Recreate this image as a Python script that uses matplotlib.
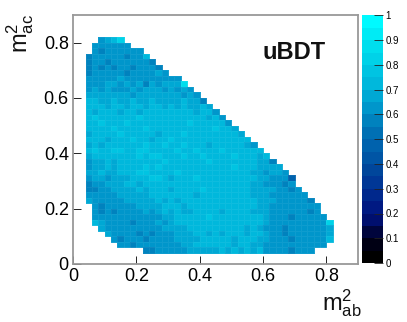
import numpy as np
import matplotlib
matplotlib.use('Agg')
import matplotlib.pyplot as plt
from matplotlib.colors import ListedColormap

plt.rcParams['font.family'] = ['Liberation Sans', 'DejaVu Sans']
plt.rcParams['mathtext.fontset'] = 'custom'
plt.rcParams['mathtext.rm'] = 'Liberation Sans'
plt.rcParams['mathtext.it'] = 'Liberation Sans'

# bins of the histogram, 0.02 wide
x_edges = np.arange(0.04, 0.8401, 0.02)
y_edges = np.arange(0.82, 0.0399, -0.02)

# first filled x bin of every row, top row first
first_bin = [2, 1, 1, 0, 0, 0, 0, 0, 0, 0, 0, 0, 0, 0, 0, 0, 0, 0, 0, 0,
             0, 0, 0, 0, 0, 0, 0, 0, 0, 0, 1, 1, 1, 1, 2, 3, 4, 5, 9]

# efficiency per bin in percent, top row first
rows = [
    [62, 67, 72, 82],
    [62, 62, 62, 62, 62, 60],
    [62, 57, 62, 62, 60, 62, 62, 60],
    [57, 62, 62, 62, 62, 62, 57, 62, 62, 72],
    [57, 62, 62, 57, 62, 62, 62, 62, 62, 62, 55],
    [57, 62, 57, 62, 57, 62, 62, 57, 62, 62, 62, 57],
    [57, 62, 62, 62, 60, 62, 57, 62, 62, 62, 62, 67, 60],
    [60, 62, 62, 62, 62, 67, 62, 62, 62, 62, 62, 62, 62, 60, 60],
    [60, 62, 62, 65, 65, 62, 65, 62, 65, 57, 65, 62, 65, 65, 67, 85],
    [62, 65, 62, 65, 62, 62, 62, 65, 62, 65, 67, 65, 62, 65, 62, 67, 60],
    [67, 68, 67, 67, 65, 67, 65, 62, 67, 67, 65, 67, 67, 65, 67, 62, 67, 60],
    [72, 72, 67, 67, 72, 67, 67, 72, 65, 67, 72, 67, 67, 67, 67, 70, 67, 67, 57],
    [72, 72, 72, 67, 72, 72, 67, 72, 72, 67, 72, 72, 67, 72, 67, 72, 67, 67, 72, 65],
    [70, 67, 72, 72, 72, 67, 72, 72, 67, 72, 72, 72, 72, 72, 72, 72, 72, 67, 72, 72, 62],
    [72, 77, 72, 72, 72, 72, 72, 72, 77, 72, 72, 72, 72, 72, 72, 72, 72, 72, 72, 67, 72, 62],
    [72, 72, 77, 72, 72, 72, 77, 72, 72, 72, 72, 72, 72, 72, 72, 72, 77, 72, 72, 72, 72, 72, 62],
    [72, 72, 72, 72, 77, 72, 72, 72, 72, 77, 72, 72, 72, 72, 72, 72, 72, 72, 72, 72, 77, 72, 72, 67],
    [67, 72, 72, 72, 72, 77, 72, 72, 72, 72, 72, 67, 72, 72, 72, 77, 72, 72, 72, 72, 72, 72, 72, 72, 67],
    [72, 72, 72, 67, 72, 72, 72, 77, 72, 72, 67, 72, 72, 77, 72, 72, 72, 72, 72, 72, 72, 72, 72, 72, 72, 72],
    [67, 72, 67, 72, 72, 72, 72, 72, 72, 77, 72, 72, 77, 72, 72, 77, 72, 72, 72, 67, 72, 72, 72, 72, 72, 67, 60],
    [72, 77, 72, 72, 77, 77, 72, 72, 77, 77, 72, 72, 72, 72, 77, 72, 72, 77, 72, 72, 72, 77, 72, 72, 72, 72, 72, 72],
    [67, 72, 72, 72, 72, 72, 72, 72, 77, 72, 77, 77, 72, 72, 72, 77, 72, 72, 77, 72, 72, 72, 72, 77, 72, 72, 72, 67, 72],
    [62, 67, 67, 72, 67, 72, 72, 72, 72, 72, 72, 72, 77, 72, 72, 72, 72, 72, 72, 77, 72, 72, 72, 72, 72, 72, 72, 67, 67, 57],
    [62, 67, 67, 72, 67, 72, 72, 72, 72, 77, 72, 77, 72, 72, 72, 72, 72, 72, 72, 72, 72, 72, 72, 77, 72, 72, 72, 67, 67, 67, 67],
    [67, 67, 72, 67, 67, 72, 72, 72, 77, 77, 72, 72, 72, 72, 77, 72, 72, 72, 72, 72, 72, 72, 72, 72, 72, 72, 67, 67, 62, 67, 67, 62],
    [62, 67, 67, 62, 67, 67, 67, 72, 72, 72, 77, 77, 72, 67, 72, 72, 72, 77, 72, 72, 72, 72, 72, 72, 72, 72, 72, 67, 67, 62, 62, 62, 47],
    [57, 62, 62, 67, 67, 67, 72, 72, 67, 72, 72, 72, 72, 72, 72, 72, 72, 72, 72, 72, 72, 72, 72, 72, 72, 72, 67, 67, 62, 62, 62, 57, 62],
    [57, 57, 62, 62, 67, 67, 67, 67, 72, 67, 72, 72, 72, 67, 72, 72, 72, 72, 77, 72, 72, 72, 72, 72, 72, 72, 67, 67, 67, 67, 62, 62, 57, 60],
    [62, 62, 62, 62, 62, 67, 67, 67, 67, 67, 72, 72, 72, 72, 72, 72, 72, 67, 72, 72, 72, 72, 72, 72, 72, 72, 67, 67, 67, 62, 62, 62, 60, 60, 60],
    [67, 62, 62, 62, 62, 62, 67, 67, 67, 67, 67, 72, 67, 72, 67, 72, 72, 72, 72, 72, 72, 72, 72, 72, 72, 72, 72, 67, 67, 67, 62, 62, 60, 60, 60, 57],
    [62, 57, 62, 62, 62, 62, 62, 67, 67, 67, 67, 72, 72, 72, 67, 72, 72, 72, 72, 72, 72, 72, 72, 72, 72, 72, 67, 67, 62, 62, 62, 62, 60, 60, 60, 62],
    [62, 57, 62, 57, 62, 62, 62, 62, 67, 62, 67, 72, 67, 72, 67, 67, 72, 72, 72, 72, 67, 72, 72, 72, 72, 67, 67, 67, 62, 62, 62, 60, 60, 60, 57, 62],
    [62, 62, 62, 62, 60, 62, 62, 62, 62, 62, 62, 67, 67, 72, 72, 72, 72, 72, 77, 72, 72, 72, 72, 72, 72, 72, 72, 67, 62, 62, 62, 57, 60, 60, 60, 60, 62],
    [72, 67, 62, 62, 62, 62, 57, 62, 62, 62, 67, 62, 67, 72, 72, 72, 72, 72, 72, 72, 72, 72, 72, 72, 72, 72, 72, 67, 62, 62, 62, 60, 62, 62, 62, 62, 62, 82],
    [67, 62, 62, 62, 62, 62, 62, 62, 62, 62, 67, 67, 67, 67, 72, 72, 72, 72, 72, 72, 72, 72, 72, 67, 72, 67, 62, 62, 62, 57, 62, 62, 60, 60, 62, 62, 67],
    [67, 60, 60, 62, 62, 57, 62, 57, 62, 62, 62, 67, 67, 67, 72, 72, 67, 72, 67, 72, 72, 72, 67, 72, 72, 67, 62, 62, 57, 62, 60, 60, 60, 60, 62, 67],
    [62, 57, 62, 62, 62, 57, 62, 62, 62, 62, 67, 67, 67, 67, 72, 72, 72, 72, 72, 67, 72, 72, 72, 67, 67, 62, 62, 62, 57, 62, 60, 60, 60, 60, 72],
    [62, 62, 57, 62, 62, 62, 62, 62, 62, 62, 67, 67, 72, 72, 72, 72, 72, 72, 67, 72, 72, 67, 67, 62, 62, 62, 60, 62, 60, 60, 60, 60, 60],
    [57, 57, 60, 60, 62, 62, 62, 67, 67, 67, 67, 67, 72, 67, 72, 67, 72, 67, 72, 62, 62, 62, 60, 57, 62, 60, 60],
]

# palette of the reference, one colour per 0.05 band
palette = ['#000000', '#000014', '#00053c', '#000f6e', '#001982', '#00288c',
           '#003796', '#00469b', '#0055a5', '#0062ad', '#0070b4', '#0082be',
           '#0096cb', '#00a8d4', '#00b8dc', '#00c4e2', '#00d2e8', '#00deed',
           '#00ebf5', '#00faff']

x_ticks = [0, 0.2, 0.4, 0.6, 0.8]
y_ticks = [0, 0.2, 0.4, 0.6, 0.8]
cbar_ticks = [0, 0.1, 0.2, 0.3, 0.4, 0.5, 0.6, 0.7, 0.8, 0.9, 1]

grid = np.full((len(rows), len(x_edges) - 1), np.nan)
for i, vals in enumerate(rows):
    grid[i, first_bin[i]:first_bin[i] + len(vals)] = np.array(vals) / 100

W, H = 407, 322
fig = plt.figure(figsize=(W / 100, H / 100), dpi=100)
ax = fig.add_axes([73 / W, (H - 264) / H, 285 / W, 249 / H])

cmap = ListedColormap(palette)
mesh = ax.pcolormesh(x_edges, y_edges, grid, cmap=cmap, vmin=0, vmax=1, edgecolors=(1, 1, 1, 0.06), linewidth=0.5)

ax.set_xlim(0, 0.9)
ax.set_ylim(0, 0.9)
ax.set_xticks(x_ticks, ['0', '0.2', '0.4', '0.6', '0.8'])
ax.set_yticks(y_ticks, ['0', '0.2', '0.4', '0.6', '0.8'])
ax.tick_params(direction='in', length=6, width=0.7, labelsize=13, color='#222222', pad=3)
for s in ax.spines.values():
    s.set_color('#999999')
    s.set_linewidth(1.3)

ax.text(0.6, 0.765, 'uBDT', fontsize=17, fontweight='bold', color='#111111', va='center')

# axis titles sit in the corners like in ROOT
fig.text(322 / W, (H - 319) / H, r'$\mathrm{m}^{2}_{\mathrm{ab}}$', fontsize=17, color='#111111', ha='left', va='bottom')
fig.text(36 / W, (H - 14) / H, r'$\mathrm{m}^{2}_{\mathrm{ac}}$', fontsize=17, color='#111111', rotation=90, ha='right', va='top')

# colour bar
cax = fig.add_axes([362 / W, (H - 263) / H, 20.5 / W, 247.5 / H])
cbar = fig.colorbar(mesh, cax=cax, ticks=cbar_ticks)
cbar.ax.set_yticklabels(['0', '0.1', '0.2', '0.3', '0.4', '0.5', '0.6', '0.7', '0.8', '0.9', '1'])
cbar.ax.tick_params(direction='in', length=6.5, width=0.6, labelsize=7, color='#222222', pad=2)
cbar.outline.set_visible(False)

fig.savefig('out.png', dpi=100)
